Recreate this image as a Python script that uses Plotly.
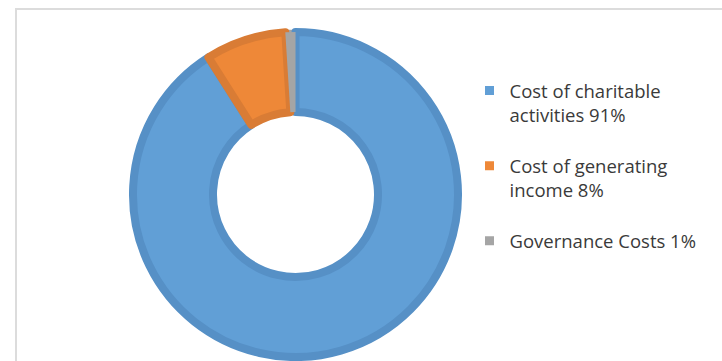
import plotly.graph_objects as go

# Expense breakdown (share of total spend, %)
categories = ["Cost of charitable<br>activities", "Cost of generating<br>income", "Governance Costs"]
shares = [91, 8, 1]

fill_colors = ["#619FD6", "#EE8838", "#A5A5A5"]
edge_colors = ["#5690C6", "#D97C35", "#A5A5A5"]

# legend text: category plus its share; two-line entries get a spacer line
labels = []
for cat, val in zip(categories, shares):
    text = f"{cat} {val}%"
    if "<br>" in cat:
        text += "<br> "
    labels.append(text)

W, H = 722, 361
cx, cy = 295.5, 194.5          # ring centre (px from top-left)
r_out, r_in = 166.5, 78.5       # visible outer / inner radius
edge = 8                        # width of the darker slice outline


def dom(r):
    return dict(x=[(cx - r) / W, (cx + r) / W],
                y=[(H - cy - r) / H, (H - cy + r) / H])


fig = go.Figure()

# base ring (also supplies the legend keys)
fig.add_trace(go.Pie(
    labels=labels, values=shares, sort=False, direction="clockwise", rotation=0,
    hole=r_in / r_out, domain=dom(r_out),
    marker=dict(colors=fill_colors, line=dict(color="white", width=3)),
    textinfo="none", hoverinfo="label+percent", showlegend=True,
))

# slices with darker outlines
rp_out, rp_in = r_out - edge / 2, r_in + edge / 2
fig.add_trace(go.Pie(
    labels=labels, values=shares, sort=False, direction="clockwise", rotation=0,
    hole=rp_in / rp_out, domain=dom(rp_out),
    marker=dict(colors=fill_colors,
                line=dict(color=edge_colors, width=[edge, edge, 0])),
    textinfo="none", hoverinfo="label+percent", showlegend=False,
))

fig.update_layout(
    width=W, height=H,
    margin=dict(l=0, r=0, t=0, b=0),
    paper_bgcolor="white", plot_bgcolor="white",
    font=dict(family="Open Sans", color="#3A3A3A"),
    legend=dict(
        x=469.5 / W, xanchor="left", y=1 - 72 / H, yanchor="top",
        valign="top", font=dict(family="Open Sans", size=18.5, color="#3A3A3A"),
        bgcolor="rgba(0,0,0,0)", traceorder="normal",
    ),
    shapes=[dict(type="rect", xref="paper", yref="paper",
                 x0=16 / W, x1=1.2, y0=-0.2, y1=1 - 9 / H,
                 line=dict(color="#DCDCDC", width=2), fillcolor="rgba(0,0,0,0)")],
)

fig.write_html("out.html")
